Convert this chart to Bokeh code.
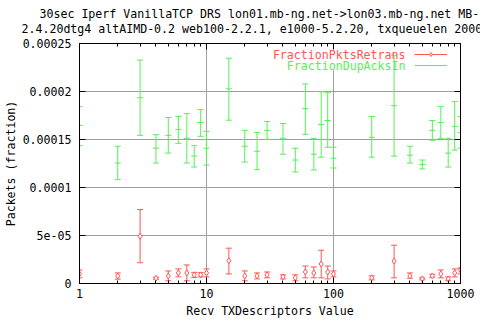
from bokeh.plotting import figure
from bokeh.models import (FixedTicker, LogAxis, LinearAxis, Label, Legend,
                          LegendItem, Range1d, Title, BoxAnnotation)
from bokeh.embed import file_html
from bokeh.resources import INLINE

# ---- data (in units of 1e-5 fraction) ----
recv_tx = [1, 2, 3, 4, 5, 6, 7, 8, 9, 10, 15, 20, 25, 30, 40, 50, 60, 70, 80, 90,
           100, 200, 300, 400, 500, 600, 700, 800, 900, 1000]

dup_mid = [16.46, 12.55, 19.35, 14.09, 15.43, 16.05, 15.12, 13.27, 16.77, 14.09,
           20.28, 14.30, 13.78, 15.95, 15.12, 12.86, 18.22, 13.47, 16.57, 16.98,
           13.06, 15.23, 18.53, 13.37, 12.40, 15.95, 16.77, 13.58, 16.36, 15.74]
dup_low = [14.36, 10.82, 15.43, 12.55, 13.58, 14.60, 12.55, 12.13, 15.33, 12.34,
           17.01, 12.65, 11.86, 15.02, 13.47, 11.62, 15.54, 11.82, 13.16, 14.20,
           12.03, 13.16, 13.27, 12.55, 11.93, 14.92, 15.12, 12.13, 13.89, 14.09]
dup_high = [18.42, 14.30, 23.27, 15.50, 17.29, 17.39, 17.70, 14.36, 18.11, 15.85,
            23.47, 15.95, 15.74, 16.88, 16.67, 14.09, 20.79, 15.12, 19.97, 19.87,
            14.20, 17.39, 23.78, 14.30, 12.86, 16.98, 18.42, 15.12, 18.94, 17.39]

ret_mid = [1.00, 0.79, 4.92, 0.55, 0.79, 1.10, 1.10, 0.90, 0.90, 1.10,
           2.37, 0.79, 0.79, 0.90, 0.69, 0.59, 1.20, 1.10, 2.03, 1.20,
           1.00, 0.59, 2.34, 0.79, 0.48, 0.79, 1.00, 0.48, 1.10, 1.41]
ret_low = [0.59, 0.45, 2.16, 0.45, 0.28, 0.69, 0.28, 0.62, 0.69, 0.69,
           1.00, 0.28, 0.48, 0.59, 0.48, 0.28, 0.59, 0.59, 0.59, 0.48,
           0.69, 0.38, 0.59, 0.55, 0.38, 0.65, 0.59, 0.28, 0.69, 1.00]
ret_high = [1.41, 1.10, 7.70, 0.65, 1.31, 1.52, 1.93, 1.16, 1.13, 1.52,
            3.68, 1.31, 1.10, 1.20, 0.90, 0.90, 1.82, 1.72, 3.47, 1.82,
            1.31, 0.79, 3.99, 1.10, 0.59, 0.96, 1.41, 0.69, 1.52, 1.62]

SCALE = 1e-5
x_ticks = [1, 10, 100, 1000]
x_minor = [2, 3, 4, 5, 6, 7, 8, 9, 20, 30, 40, 50, 60, 70, 80, 90,
           200, 300, 400, 500, 600, 700, 800, 900]
y_ticks = [0, 5e-05, 0.0001, 0.00015, 0.0002, 0.00025]
y_tick_labels = ["0", "5e-05", "0.0001", "0.00015", "0.0002", "0.00025"]
title_lines = ["30sec Iperf VanillaTCP DRS lon01.mb-ng.net->lon03.mb-ng.net MB-",
               "2.4.20dtg4 altAIMD-0.2 web100-2.2.1, e1000-5.2.20, txqueuelen 2000"]
series_names = ["FractionPktsRetrans", "FractionDupAcksIn"]

FONT = "DejaVu Sans Mono"
FS = "11.6px"
RED = "#ff5555"
GREEN = "#55f055"
GRID = "#a0a0a0"

dm = [v * SCALE for v in dup_mid]
dl = [v * SCALE for v in dup_low]
dh = [v * SCALE for v in dup_high]
rm = [v * SCALE for v in ret_mid]
rl = [v * SCALE for v in ret_low]
rh = [v * SCALE for v in ret_high]

p = figure(width=480, height=320, x_axis_type="log", title=None,
           x_range=Range1d(1, 1000), y_range=Range1d(0, 0.00025),
           output_backend="svg", toolbar_location=None,
           min_border_left=79, min_border_right=20,
           min_border_top=43, min_border_bottom=34)
p.background_fill_color = "white"
p.border_fill_color = "white"
p.outline_line_color = "black"
p.outline_line_width = 1

xt = FixedTicker(ticks=x_ticks, minor_ticks=x_minor)
yt = FixedTicker(ticks=y_ticks)


def style_axis(ax):
    ax.axis_line_color = "black"
    ax.major_tick_in = 6
    ax.major_tick_out = 0
    ax.minor_tick_in = 3
    ax.minor_tick_out = 0
    ax.major_tick_line_color = "black"
    ax.minor_tick_line_color = "black"
    ax.major_label_text_font = FONT
    ax.major_label_text_font_size = FS
    ax.major_label_text_color = "black"
    ax.axis_label_text_font = FONT
    ax.axis_label_text_font_size = FS
    ax.axis_label_text_font_style = "normal"
    ax.axis_label_text_color = "black"


xa = p.xaxis[0]
xa.ticker = xt
xa.major_label_overrides = {t: str(t) for t in x_ticks}
xa.axis_label = "Recv TXDescriptors Value"
style_axis(xa)
xa.major_label_standoff = 5
xa.axis_label_standoff = 3

ya = p.yaxis[0]
ya.ticker = yt
ya.major_label_overrides = {t: s for t, s in zip(y_ticks, y_tick_labels)}
ya.axis_label = "Packets (fraction)"
style_axis(ya)
ya.minor_tick_in = 0
ya.major_label_standoff = 8
ya.axis_label_standoff = 2

top = LogAxis(ticker=xt, major_label_overrides={t: "" for t in x_ticks})
style_axis(top)
top.major_label_text_font_size = "0px"
top.major_label_standoff = 0
p.add_layout(top, "above")
right = LinearAxis(ticker=yt, major_label_overrides={t: "" for t in y_ticks})
style_axis(right)
right.minor_tick_in = 0
right.major_label_text_font_size = "0px"
right.major_label_standoff = 0
p.add_layout(right, "right")

p.xgrid.ticker = xt
p.ygrid.ticker = yt
for g in (p.xgrid[0], p.ygrid[0]):
    g.grid_line_color = GRID
    g.grid_line_width = 1

# key area keeps the grid clear (as gnuplot does)
p.add_layout(BoxAnnotation(left=31.3, bottom=0.0002222, fill_color="white",
                           fill_alpha=1, line_color=None, level="underlay"))

# error bars
r_seg = p.segment(x0=recv_tx, y0=rl, x1=recv_tx, y1=rh, line_color=RED, line_width=1)
p.scatter(x=recv_tx, y=rl, marker="dash", size=6, line_color=RED)
p.scatter(x=recv_tx, y=rh, marker="dash", size=6, line_color=RED)
r_pt = p.scatter(x=recv_tx, y=rm, marker="diamond", size=6, line_color=RED,
                 fill_color="white", line_width=1)

g_seg = p.segment(x0=recv_tx, y0=dl, x1=recv_tx, y1=dh, line_color=GREEN, line_width=1)
p.scatter(x=recv_tx, y=dl, marker="dash", size=6, line_color=GREEN)
p.scatter(x=recv_tx, y=dh, marker="dash", size=6, line_color=GREEN)
g_pt = p.scatter(x=recv_tx, y=dm, marker="dash", size=6, line_color=GREEN)

# key: gnuplot style, text right-aligned left of the sample
for name, rends, color, ly, ty in ((series_names[0], [r_seg, r_pt], RED, 224.0, 228.8),
                                   (series_names[1], [g_seg, g_pt], GREEN, 212.6, 217.5)):
    lg = Legend(items=[LegendItem(label=" ", renderers=rends)], location=(335, ly),
                padding=0, margin=0, spacing=0, glyph_width=33, glyph_height=10,
                label_standoff=0, label_text_font=FONT, label_text_font_size="1px",
                border_line_color=None, background_fill_alpha=0)
    p.add_layout(lg, "center")
    p.add_layout(Label(x=326, y=ty, x_units="screen", y_units="screen", text=name,
                       text_font=FONT, text_font_size=FS, text_color=color,
                       text_baseline="middle", text_align="right"))

# two-line title, each line left-aligned as in the reference
p.add_layout(Title(text=title_lines[1], align="left", offset=-58, standoff=16,
                   text_font=FONT, text_font_size=FS, text_font_style="normal",
                   text_color="black"), "above")
p.add_layout(Title(text=title_lines[0], align="left", offset=-40, standoff=-19,
                   text_font=FONT, text_font_size=FS, text_font_style="normal",
                   text_color="black"), "above")

open("out.html", "w").write(file_html(p, INLINE))
